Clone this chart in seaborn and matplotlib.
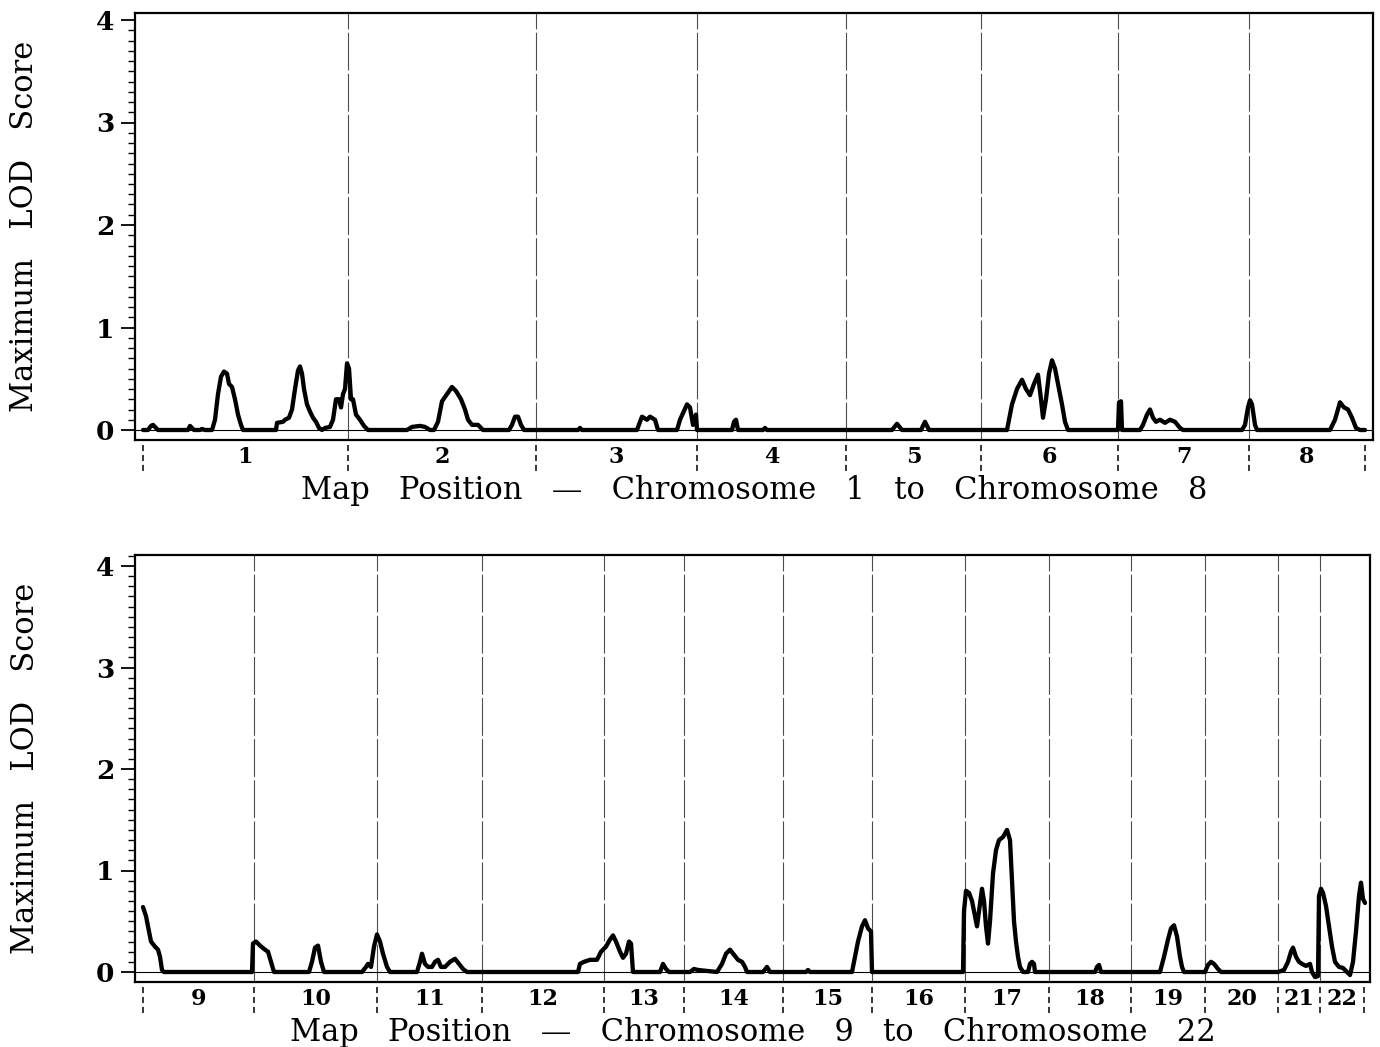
import numpy as np
import pandas as pd
import matplotlib
matplotlib.use("Agg")
import matplotlib.pyplot as plt
import matplotlib.transforms as mtransforms
from matplotlib.ticker import MultipleLocator
import seaborn as sns

# ---------------- data (map units along the genome, LOD score) ----------------
top_pos = [0, 5, 8, 10, 13, 15, 45, 47, 49, 51, 57, 59, 62, 69, 72, 75, 78, 81, 84, 86, 89, 92, 95, 98, 100,
           133, 134, 140, 142, 146, 149, 152, 155, 157, 159, 161, 164, 167, 170, 173, 176, 179, 182, 187, 190,
           193, 196, 198, 200, 202, 204, 206, 208, 210, 213, 217, 221, 225,
           264, 269, 277, 282, 287, 291, 295, 299, 304, 309, 313, 318, 322, 325, 329, 335, 340,
           366, 369, 372, 375, 378, 381, 435, 437, 439,
           494, 497, 499, 504, 507, 512, 515, 534, 537, 544, 547, 550, 553, 554,
           589, 591, 593, 595, 620, 622, 624,
           749, 754, 759, 778, 782, 786,
           864, 869, 874, 879, 883, 887, 891, 895, 898, 900, 903, 906, 909, 912, 915, 919, 922, 925,
           975, 976, 978, 979, 997, 1000, 1004, 1007, 1010, 1013, 1017, 1022, 1027, 1032, 1037, 1040,
           1099, 1102, 1105, 1107, 1109, 1112, 1114,
           1187, 1192, 1197, 1201, 1205, 1209, 1213, 1217, 1222]
top_lod = [0, 0, 0.04, 0.05, 0.02, 0, 0, 0.04, 0.02, 0, 0, 0.01, 0, 0, 0.1, 0.35, 0.52, 0.57, 0.55, 0.45, 0.42, 0.3, 0.15, 0.05, 0,
           0, 0.07, 0.08, 0.1, 0.12, 0.2, 0.4, 0.58, 0.62, 0.55, 0.4, 0.25, 0.18, 0.12, 0.08, 0.02, 0, 0.02, 0.03, 0.1,
           0.3, 0.3, 0.22, 0.35, 0.4, 0.65, 0.6, 0.3, 0.3, 0.15, 0.1, 0.04, 0,
           0, 0.03, 0.04, 0.03, 0, 0, 0.08, 0.28, 0.35, 0.42, 0.38, 0.3, 0.2, 0.1, 0.05, 0.05, 0,
           0, 0.05, 0.13, 0.13, 0.05, 0, 0, 0.02, 0,
           0, 0.08, 0.13, 0.1, 0.13, 0.1, 0, 0, 0.1, 0.25, 0.22, 0.05, 0.15, 0,
           0, 0.08, 0.1, 0, 0, 0.02, 0,
           0, 0.06, 0, 0, 0.08, 0,
           0, 0.25, 0.4, 0.49, 0.4, 0.34, 0.45, 0.54, 0.3, 0.12, 0.3, 0.55, 0.68, 0.6, 0.45, 0.25, 0.08, 0,
           0, 0.27, 0.28, 0, 0, 0.05, 0.15, 0.2, 0.12, 0.08, 0.1, 0.07, 0.1, 0.08, 0.02, 0,
           0, 0.05, 0.22, 0.29, 0.25, 0.05, 0,
           0, 0.1, 0.27, 0.22, 0.2, 0.12, 0.02, 0, 0]
top_bounds = [0, 205, 393, 554, 703, 838, 975, 1106, 1222]
top_chroms = ["1", "2", "3", "4", "5", "6", "7", "8"]

bot_pos = [0, 3, 6, 8, 12, 15, 17, 19, 21, 109, 110, 113, 117, 122, 125, 128, 131,
           166, 169, 172, 175, 178, 181, 219, 223, 225, 228, 231, 234, 237, 240, 244, 247,
           274, 277, 279, 282, 285, 289, 292, 295, 298, 302, 307, 312, 316, 320, 324,
           435, 437, 441, 447, 454, 458, 463, 467, 470, 473, 477, 480, 483, 486, 488, 490,
           517, 520, 523, 526, 547, 551, 555, 574, 579, 583, 587, 591, 595, 599, 602, 604,
           620, 624, 627, 663, 665, 667,
           709, 712, 715, 719, 722, 725, 728, 729,
           820, 821, 823, 826, 829, 832, 834, 836, 839, 841, 843, 845, 847, 850, 853, 856, 860, 864, 867,
           869, 871, 873, 875, 877, 880, 885, 887, 889, 891, 892,
           952, 954, 956, 958, 1017, 1021, 1025, 1028, 1031, 1034, 1037, 1039, 1041,
           1062, 1065, 1068, 1071, 1075, 1078,
           1135, 1141, 1145, 1148, 1150, 1153, 1156, 1159, 1163, 1167, 1169, 1172, 1175,
           1176, 1178, 1180, 1183, 1186, 1189, 1192, 1196, 1200, 1204, 1207, 1210, 1213, 1216, 1218, 1220, 1222]
bot_lod = [0.64, 0.55, 0.4, 0.3, 0.25, 0.22, 0.15, 0.02, 0, 0, 0.28, 0.3, 0.26, 0.22, 0.2, 0.1, 0,
           0, 0.1, 0.24, 0.26, 0.1, 0, 0, 0.05, 0.08, 0.05, 0.25, 0.37, 0.3, 0.18, 0.05, 0,
           0, 0.1, 0.18, 0.08, 0.05, 0.05, 0.1, 0.12, 0.05, 0.05, 0.1, 0.13, 0.08, 0.03, 0,
           0, 0.08, 0.1, 0.12, 0.12, 0.2, 0.25, 0.32, 0.36, 0.3, 0.2, 0.14, 0.18, 0.3, 0.28, 0,
           0, 0.08, 0.03, 0, 0, 0.03, 0.02, 0, 0.08, 0.18, 0.22, 0.17, 0.12, 0.1, 0.05, 0,
           0, 0.05, 0, 0, 0.02, 0,
           0, 0.15, 0.3, 0.45, 0.51, 0.43, 0.4, 0,
           0, 0.6, 0.8, 0.78, 0.7, 0.55, 0.45, 0.6, 0.82, 0.7, 0.45, 0.28, 0.5, 0.97, 1.2, 1.3, 1.33, 1.4, 1.3,
           0.9, 0.5, 0.3, 0.15, 0.05, 0, 0, 0.08, 0.1, 0.08, 0,
           0, 0.05, 0.07, 0, 0, 0.15, 0.32, 0.43, 0.46, 0.35, 0.15, 0.05, 0,
           0, 0.07, 0.1, 0.08, 0.03, 0,
           0, 0.02, 0.1, 0.2, 0.24, 0.15, 0.1, 0.08, 0.06, 0.08, 0, -0.05, -0.04,
           0.75, 0.82, 0.78, 0.65, 0.45, 0.25, 0.1, 0.05, 0.04, 0, -0.03, 0.1, 0.4, 0.75, 0.88, 0.72, 0.68]
bot_bounds = [0, 111, 234, 339, 461, 541, 640, 729, 822, 906, 988, 1062, 1135, 1177, 1221]
bot_chroms = ["9", "10", "11", "12", "13", "14", "15", "16", "17", "18", "19", "20", "21", "22"]

y_ticks = [0, 1, 2, 3, 4]
y_label = "Maximum   LOD   Score"
top_xlabel = "Map   Position   \u2014   Chromosome   1   to   Chromosome   8"
bot_xlabel = "Map   Position   \u2014   Chromosome   9   to   Chromosome   22"

# ---------------- style ----------------
sns.set_style("white")
plt.rcParams["font.family"] = ["DejaVu Serif"]
plt.rcParams["text.color"] = "black"
plt.rcParams["axes.labelcolor"] = "black"
plt.rcParams["xtick.color"] = "black"
plt.rcParams["ytick.color"] = "black"

W, H = 1380, 1047
fig = plt.figure(figsize=(W / 100, H / 100), dpi=100)


def panel(rect_px, pos, lod, bounds, chroms, xlabel, xlim, ylim):
    l, t, r, b = rect_px
    ax = fig.add_axes([l / W, 1 - b / H, (r - l) / W, (b - t) / H])
    df = pd.DataFrame({"pos": pos, "lod": lod})
    sns.lineplot(data=df, x="pos", y="lod", ax=ax, color="black", linewidth=3.1,
                 sort=False, estimator=None)
    ax.set_xlim(*xlim)
    ax.set_ylim(*ylim)
    ax.axhline(0, color="black", linewidth=0.8, zorder=1)
    for bd in bounds[1:-1]:
        ax.axvline(bd, color="0.3", linewidth=0.8, dashes=(34, 3), zorder=0)
    trans = mtransforms.blended_transform_factory(ax.transData, ax.transAxes)
    for bd in bounds:
        ax.plot([bd, bd], [-0.012, -0.072], transform=trans, clip_on=False,
                color="black", linewidth=1.1, dashes=(4, 2.5))
    centers = [(bounds[i] + bounds[i + 1]) / 2 for i in range(len(chroms))]
    ax.set_xticks(centers)
    ax.set_xticklabels(chroms, fontsize=16, fontweight="bold", color="black")
    ax.tick_params(axis="x", length=0, pad=4)
    ax.set_yticks(y_ticks)
    ax.set_yticklabels([str(v) for v in y_ticks], fontsize=19, fontweight="bold", color="black")
    ax.yaxis.set_minor_locator(MultipleLocator(0.1))
    ax.tick_params(axis="y", which="major", direction="out", length=10, width=1.3,
                   left=True, pad=5, color="black")
    ax.tick_params(axis="y", which="minor", direction="out", length=5, width=1.0,
                   left=True, color="black")
    for s in ax.spines.values():
        s.set_color("black")
        s.set_linewidth(1.6)
    ax.set_xlabel(xlabel, fontsize=22, color="black")
    ax.xaxis.set_label_coords(0.5, -(51 / (b - t)))
    ax.xaxis.label.set_verticalalignment("center")
    ax.set_ylabel(y_label, fontsize=22, color="black")
    ax.yaxis.set_label_coords(-(110 / (r - l)), 0.5)
    ax.yaxis.label.set_verticalalignment("center")
    return ax


panel((135, 13, 1373, 440), top_pos, top_lod, top_bounds, top_chroms, top_xlabel,
      (-8, 1230), (-10 / 102.5, 417 / 102.5))
panel((135, 555, 1370, 982), bot_pos, bot_lod, bot_bounds, bot_chroms, bot_xlabel,
      (-8, 1227), (-10 / 101.5, 417 / 101.5))

fig.savefig("out.png", dpi=100, facecolor="white")
